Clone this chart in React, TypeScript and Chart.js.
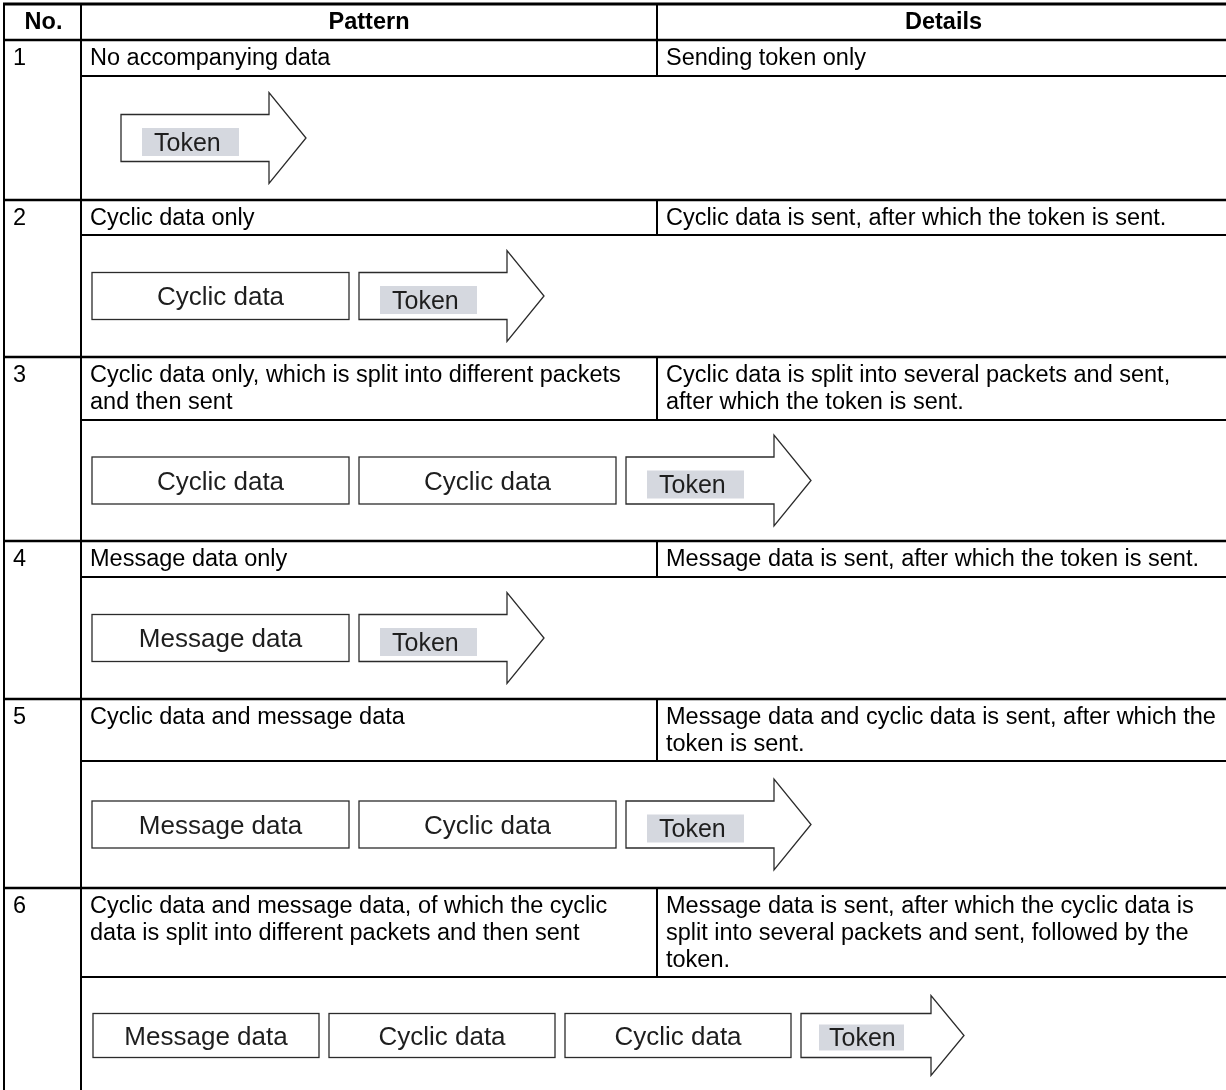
import React, { useEffect, useRef } from "react";
import { Chart, registerables } from "chart.js";

Chart.register(...registerables);

// ---------- data ----------
const headerLabels = ["No.", "Pattern", "Details"];
const rowNumbers = ["1", "2", "3", "4", "5", "6"];
const patternLines: string[][] = [
  ["No accompanying data"],
  ["Cyclic data only"],
  ["Cyclic data only, which is split into different packets", "and then sent"],
  ["Message data only"],
  ["Cyclic data and message data"],
  ["Cyclic data and message data, of which the cyclic", "data is split into different packets and then sent"],
];
const detailLines: string[][] = [
  ["Sending token only"],
  ["Cyclic data is sent, after which the token is sent."],
  ["Cyclic data is split into several packets and sent,", "after which the token is sent."],
  ["Message data is sent, after which the token is sent."],
  ["Message data and cyclic data is sent, after which the", "token is sent."],
  ["Message data is sent, after which the cyclic data is", "split into several packets and sent, followed by the", "token."],
];
const diagramItems: string[][] = [
  ["Token"],
  ["Cyclic data", "Token"],
  ["Cyclic data", "Cyclic data", "Token"],
  ["Message data", "Token"],
  ["Message data", "Cyclic data", "Token"],
  ["Message data", "Cyclic data", "Cyclic data", "Token"],
];

// ---------- layout (scale units) ----------
const W = 1226;
const H = 1090;
const tableLeft = 4;
const tableTop = 4;
const colNo = 81;
const colDetails = 657;
const headerBottom = 40;
const rowTop = [40, 200, 357, 541, 699, 888];
const textSep = [76, 235, 420, 577, 761, 977];
const rowBottom = [200, 357, 541, 699, 888, 1094];
const diagramStartX = [121, 92, 92, 92, 92, 93];
const diagramCompact = [false, false, false, false, false, true];

const shapeStd = { boxW: 257, gap: 10, bodyW: 148, headW: 37, bodyH: 47, headH: 91, grayDx: 21, grayW: 97, grayH: 28, grayDy: 4, textDx: 12 };
const shapeCompact = { boxW: 226, gap: 10, bodyW: 130, headW: 33, bodyH: 44, headH: 80, grayDx: 18, grayW: 85, grayH: 26, grayDy: 2, textDx: 10 };

const FONT = '"Liberation Sans", Arial, Helvetica, sans-serif';
const TEXT_SIZE = 23.5;
const LINE_STEP = 27;
const BOX_TEXT = 26;
const TOKEN_TEXT = 25;

const tablePlugin = {
  id: "tableDiagram",
  beforeDraw(chart: any) {
    const { ctx } = chart;
    ctx.save();
    ctx.fillStyle = "#ffffff";
    ctx.fillRect(0, 0, chart.width, chart.height);
    ctx.restore();
  },
  afterDraw(chart: any) {
    const { ctx } = chart;
    const xs = chart.scales.x;
    const ys = chart.scales.y;
    const X = (v: number) => xs.getPixelForValue(v);
    const Y = (v: number) => ys.getPixelForValue(v);
    ctx.save();

    const hLine = (x1: number, x2: number, y: number, w: number) => {
      ctx.beginPath();
      ctx.lineWidth = w;
      ctx.strokeStyle = "#000";
      ctx.moveTo(X(x1), Y(y));
      ctx.lineTo(X(x2), Y(y));
      ctx.stroke();
    };
    const vLine = (x: number, y1: number, y2: number, w: number) => {
      ctx.beginPath();
      ctx.lineWidth = w;
      ctx.strokeStyle = "#000";
      ctx.moveTo(X(x), Y(y1));
      ctx.lineTo(X(x), Y(y2));
      ctx.stroke();
    };

    // table lines
    hLine(tableLeft - 1, W, tableTop, 3);
    hLine(tableLeft - 1, W, headerBottom, 2.5);
    rowTop.forEach((t, i) => {
      if (i > 0) hLine(tableLeft - 1, W, t, 2.5);
      hLine(colNo, W, textSep[i], 2);
    });
    vLine(tableLeft, tableTop, H, 2);
    vLine(colNo, tableTop, H, 2);
    vLine(colDetails, tableTop, headerBottom, 2);
    rowTop.forEach((t, i) => vLine(colDetails, t, textSep[i], 2));

    // header
    ctx.fillStyle = "#000";
    ctx.textBaseline = "alphabetic";
    ctx.font = `bold ${TEXT_SIZE}px ${FONT}`;
    ctx.textAlign = "center";
    const headerBase = tableTop + 25;
    ctx.fillText(headerLabels[0], X((tableLeft + colNo) / 2 + 1), Y(headerBase));
    ctx.fillText(headerLabels[1], X((colNo + colDetails) / 2), Y(headerBase));
    ctx.fillText(headerLabels[2], X((colDetails + W) / 2 + 2), Y(headerBase));

    // rows text
    ctx.font = `${TEXT_SIZE}px ${FONT}`;
    ctx.textAlign = "left";
    rowNumbers.forEach((n, i) => {
      const base = rowTop[i] + 25;
      ctx.fillText(n, X(tableLeft + 9), Y(base));
      patternLines[i].forEach((ln, k) => ctx.fillText(ln, X(colNo + 9), Y(base + k * LINE_STEP)));
      detailLines[i].forEach((ln, k) => ctx.fillText(ln, X(colDetails + 9), Y(base + k * LINE_STEP)));
    });

    // diagrams
    diagramItems.forEach((items, i) => {
      const s = diagramCompact[i] ? shapeCompact : shapeStd;
      const cy = (textSep[i] + rowBottom[i]) / 2;
      const top = cy - s.bodyH / 2;
      const bot = cy + s.bodyH / 2;
      let x = diagramStartX[i];
      items.forEach((label) => {
        if (label === "Token") {
          const bx = x + s.bodyW;
          ctx.beginPath();
          ctx.moveTo(X(x), Y(top));
          ctx.lineTo(X(bx), Y(top));
          ctx.lineTo(X(bx), Y(cy - s.headH / 2));
          ctx.lineTo(X(bx + s.headW), Y(cy));
          ctx.lineTo(X(bx), Y(cy + s.headH / 2));
          ctx.lineTo(X(bx), Y(bot));
          ctx.lineTo(X(x), Y(bot));
          ctx.closePath();
          ctx.fillStyle = "#fff";
          ctx.fill();
          ctx.lineWidth = 1.3;
          ctx.strokeStyle = "#2b2b2b";
          ctx.lineJoin = "miter";
          ctx.stroke();
          const gy = cy + s.grayDy;
          ctx.fillStyle = "#d5d8df";
          ctx.fillRect(X(x + s.grayDx), Y(gy - s.grayH / 2), X(x + s.grayDx + s.grayW) - X(x + s.grayDx), Y(gy + s.grayH / 2) - Y(gy - s.grayH / 2));
          ctx.fillStyle = "#1e1e1e";
          ctx.font = `${TOKEN_TEXT}px ${FONT}`;
          ctx.textAlign = "left";
          ctx.fillText(label, X(x + s.grayDx + s.textDx), Y(gy + 0.716 * TOKEN_TEXT / 2));
          x = bx + s.headW + s.gap;
        } else {
          ctx.fillStyle = "#fff";
          ctx.fillRect(X(x), Y(top), X(x + s.boxW) - X(x), Y(bot) - Y(top));
          ctx.lineWidth = 1.3;
          ctx.strokeStyle = "#2b2b2b";
          ctx.strokeRect(X(x), Y(top), X(x + s.boxW) - X(x), Y(bot) - Y(top));
          ctx.fillStyle = "#1e1e1e";
          ctx.font = `${BOX_TEXT}px ${FONT}`;
          ctx.textAlign = "center";
          ctx.fillText(label, X(x + s.boxW / 2), Y(cy + 0.716 * BOX_TEXT / 2));
          x = x + s.boxW + s.gap;
        }
      });
    });

    ctx.restore();
  },
};

export default function App() {
  const ref = useRef<HTMLCanvasElement | null>(null);
  useEffect(() => {
    if (!ref.current) return;
    const chart = new Chart(ref.current, {
      type: "scatter",
      data: { datasets: [{ data: [], pointRadius: 0 }] },
      options: {
        responsive: false,
        animation: false,
        devicePixelRatio: 1,
        layout: { padding: 0 },
        plugins: { legend: { display: false }, tooltip: { enabled: false }, title: { display: false } },
        scales: {
          x: { type: "linear", min: 0, max: W, display: false },
          y: { type: "linear", min: 0, max: H, reverse: true, display: false },
        },
      },
      plugins: [tablePlugin],
    });
    return () => chart.destroy();
  }, []);
  return (
    <div style={{ position: "absolute", left: 0, top: 0, width: W, height: H, background: "#fff" }}>
      <canvas ref={ref} width={W} height={H} style={{ display: "block", width: W, height: H }} />
    </div>
  );
}
